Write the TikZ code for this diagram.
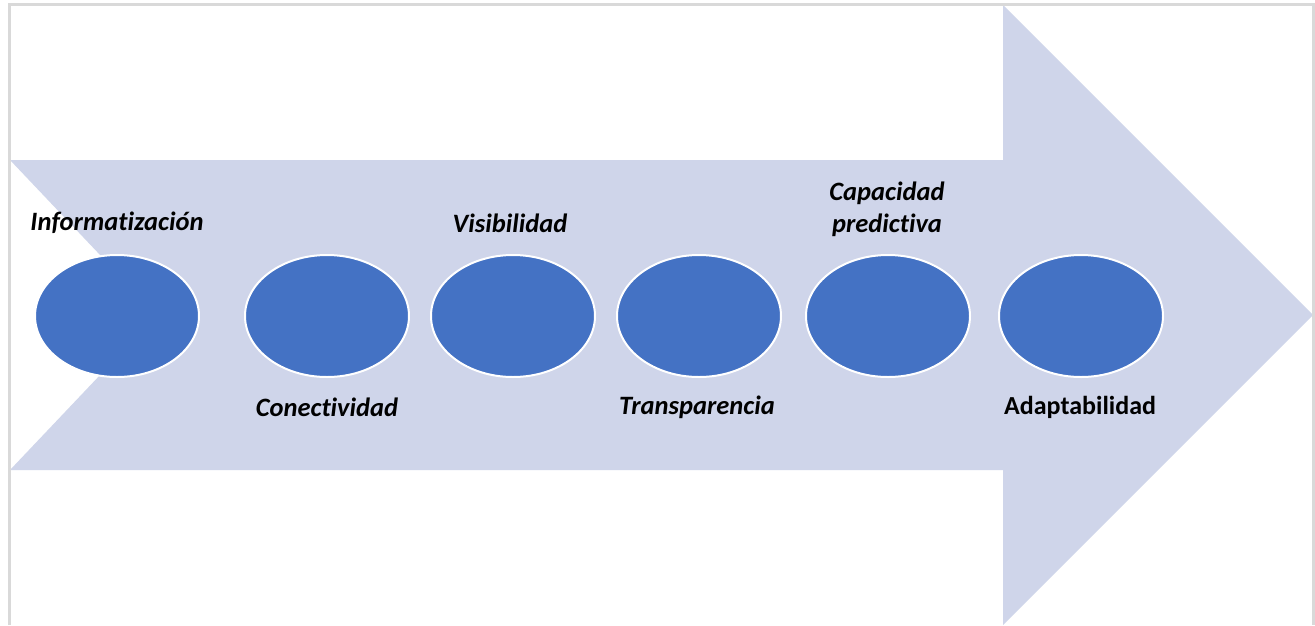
\documentclass[tikz,border=0pt]{standalone}
\usepackage{fontspec}
\setmainfont{Carlito}[Ligatures={NoCommon}]
\usetikzlibrary{shapes.geometric}
\definecolor{arrowfill}{HTML}{CFD5EA}
\definecolor{dotblue}{HTML}{4472C4}
\definecolor{framegray}{HTML}{D9D9D9}
\begin{document}
\begin{tikzpicture}[x=1pt,y=-1pt,
  dot/.style={ellipse,fill=dotblue,draw=white,line width=2pt,minimum width=164pt,minimum height=122pt,inner sep=0pt},
  lbl/.style={font=\fontsize{26.5}{32}\selectfont\bfseries\itshape,text=black,align=center,inner sep=0pt},
  lblup/.style={font=\fontsize{26}{31}\selectfont\bfseries,text=black,align=center,inner sep=0pt}]
\useasboundingbox (0,0) rectangle (1315,625);
\fill[white] (0,0) rectangle (1315,625);
% big arrow
\fill[arrowfill] (10,160) -- (1003,160) -- (1003,5) -- (1313,315) -- (1003,625) -- (1003,470) -- (10,470) -- (157,315) -- cycle;
% frame
\draw[framegray,line width=2.2pt] (9.5,625) -- (9.5,4.5) -- (1313.5,4.5) -- (1313.5,625);
% ellipses
\node[dot] (e1) at (117,316) {};
\node[dot] (e2) at (327,316) {};
\node[dot] (e3) at (513,316) {};
\node[dot] (e4) at (699,316) {};
\node[dot] (e5) at (888,316) {};
\node[dot] (e6) at (1081,316) {};
% labels
\node[lbl] (t1) at (117,223) {Informatización};
\node[lbl] (t2) at (327,407) {Conectividad};
\node[lbl] (t3) at (510,223) {Visibilidad};
\node[lbl] (t4) at (697,407) {Transparencia};
\node[lbl] (t5) at (887,209) {Capacidad\\predictiva};
\node[lblup] (t6) at (1080,407) {Adaptabilidad};
\end{tikzpicture}
\end{document}
